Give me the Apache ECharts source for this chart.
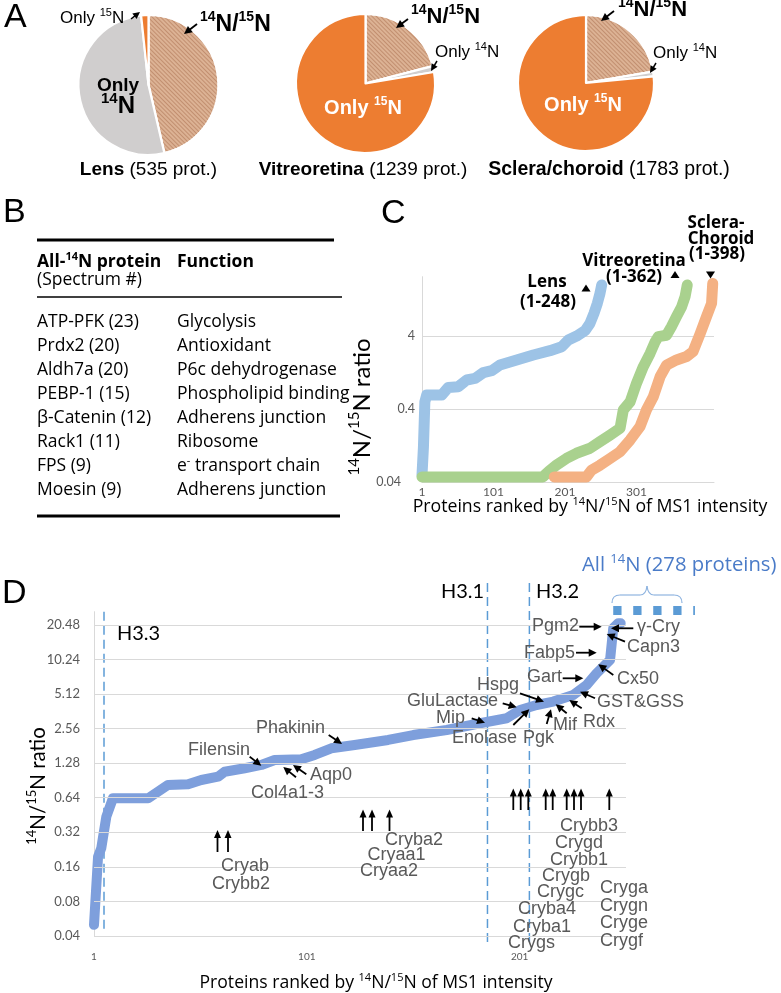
<!DOCTYPE html>
<html><head><meta charset="utf-8">
<script src="https://cdn.jsdelivr.net/npm/echarts@6/dist/echarts.min.js"></script>
<style>html,body{margin:0;padding:0;background:#fff}#c{width:781px;height:993px}</style>
</head><body><div id="c"></div>
<script>
// ================= DATA =================
// Panel A: pie categories and protein counts
const pieCategories = ['14N/15N', 'Only 14N', 'Only 15N'];
const lensCounts = [248, 278, 9];
const vitreoCounts = [260, 17, 962];
const scleraCounts = [398, 20, 1365];

// Panel B: table
const tableProteins = ['ATP-PFK (23)', 'Prdx2 (20)', 'Aldh7a (20)', 'PEBP-1 (15)', 'β-Catenin (12)', 'Rack1 (11)', 'FPS (9)', 'Moesin (9)'];
const tableFunctions = ['Glycolysis', 'Antioxidant', 'P6c dehydrogenase', 'Phospholipid binding', 'Adherens junction', 'Ribosome', 'e{s|-} transport chain', 'Adherens junction'];

// Panel C: rank vs 14N/15N ratio
const cLensRank  = [1, 3, 5, 7.5, 28.5, 37.8, 51.8, 63.5, 75.1, 86.8, 98.5, 110, 133.4, 156.7, 180, 196.4, 205.6, 217.3, 229, 236, 241.6, 246.2, 250, 252.3];
const cLensRatio = [0.05, 0.12, 0.5, 0.62, 0.62, 0.79, 0.81, 1.0, 1.05, 1.26, 1.34, 1.6, 1.88, 2.2, 2.52, 2.85, 3.53, 4.0, 4.73, 5.97, 8.2, 11.2, 15.4, 20];
const cVitreoRank  = [1, 170, 180, 189, 203, 217, 236, 250, 264, 278, 282.6, 292, 301, 310.5, 320, 327, 331.5, 343, 350, 357, 364, 369, 372];
const cVitreoRatio = [0.047, 0.047, 0.058, 0.068, 0.084, 0.099, 0.116, 0.143, 0.176, 0.218, 0.39, 0.50, 0.90, 1.52, 2.31, 3.33, 3.92, 4.1, 5.4, 7.4, 10, 13.9, 20];
const cScleraRank  = [186, 231, 238, 250, 264, 278, 292, 306, 315, 324.5, 334, 343, 357, 371, 380, 390, 399, 406, 407.6];
const cScleraRatio = [0.047, 0.047, 0.058, 0.068, 0.084, 0.104, 0.15, 0.23, 0.39, 0.59, 1.11, 1.6, 1.88, 2.1, 2.44, 4.3, 7.4, 11.2, 21];
const cXTicks = [1, 101, 201, 301];
const cYTicks = [0.04, 0.4, 4];

// Panel D: lens rank vs ratio
const dRank  = [1, 2.9, 4.4, 6.8, 9.9, 26.4, 31.1, 35.8, 45.2, 51.4, 59.3, 62.4, 71.8, 79.6, 85.9, 98.4, 104.7, 112.5, 123.5, 139.2, 151, 166.7, 182.4, 194.9, 201.2, 209, 216.8, 226.2, 232.5, 237.2, 240.3, 243.5, 244.3, 245, 247.4, 248.5];
const dRatio = [0.05, 0.196, 0.232, 0.438, 0.633, 0.633, 0.723, 0.827, 0.838, 0.914, 0.976, 1.079, 1.156, 1.235, 1.365, 1.384, 1.509, 1.726, 1.844, 2.04, 2.25, 2.49, 2.85, 3.15, 3.72, 4.11, 4.40, 5.03, 6.14, 7.77, 8.86, 10.14, 14.2, 19.2, 21.2, 21.2];
const dAll14NRank = [245, 283.4];
const dAll14NRatio = [27.4, 27.4];
const dHistoneNames = ['H3.3', 'H3.1', 'H3.2'];
const dHistoneRank = [5.7, 185.9, 205.6];
const dHistoneTop = [26.7, 47.5, 47.5];
const dHistoneBottom = [0.0425, 0.0323, 0.0323];
const dXTicks = [1, 101, 201];
const dYTicks = [0.04, 0.08, 0.16, 0.32, 0.64, 1.28, 2.56, 5.12, 10.24, 20.48];
const dGridRankRange = [1, 251];

// ================= STYLE / LAYOUT =================
const ARIAL = 'Liberation Sans, Arial, sans-serif';
const CAL = 'Lato, Carlito, sans-serif';
const OPEN = 'Open Sans, Noto Sans, sans-serif';
const pieColors = ['#dcb294', '#d0cece', '#ed7d31'];
const hatchDecal = { symbol: 'rect', symbolSize: 1, color: 'rgba(168,108,76,0.5)', dashArrayX: [1, 0], dashArrayY: [1, 2], rotation: Math.PI / 4 };
const zip = (a, b) => a.map((v, i) => [v, b[i]]);

function richSet(size, weight, family, color) {
  const lh = Math.round(size * 1.25);
  const ss = Math.round(size * 0.62);
  return {
    b: { fontSize: size, fontWeight: 'bold', fontFamily: family, fill: color, lineHeight: lh },
    r: { fontSize: size, fontWeight: 'normal', fontFamily: family, fill: color, lineHeight: lh },
    s: { fontSize: ss, fontWeight: weight, fontFamily: family, fill: color, lineHeight: Math.round(ss * 1.2), verticalAlign: 'top' }
  };
}
function txt(x, y, text, size, o) {
  o = o || {};
  const family = o.family || ARIAL, weight = o.weight || 'normal', color = o.color || '#000';
  const align = o.align || 'left';
  return {
    type: 'text', x: x, y: y, z: 100, silent: true,
    rotation: o.rotation || 0,
    style: {
      text: text, fontSize: size, fontFamily: family, fontWeight: weight, fill: color,
      lineHeight: Math.round(size * 1.25),
      align: align, textAlign: align, verticalAlign: 'middle', textVerticalAlign: 'middle',
      rich: richSet(size, weight, family, color)
    }
  };
}
function arrow(x1, y1, x2, y2, hl, hw, lw) {
  const dx = x2 - x1, dy = y2 - y1, L = Math.hypot(dx, dy), ux = dx / L, uy = dy / L;
  const bx = x2 - ux * hl, by = y2 - uy * hl, px = -uy * hw / 2, py = ux * hw / 2;
  return [
    { type: 'line', z: 100, silent: true, shape: { x1: x1, y1: y1, x2: bx + ux, y2: by + uy }, style: { stroke: '#000', lineWidth: lw } },
    { type: 'polygon', z: 100, silent: true, shape: { points: [[x2, y2], [bx + px, by + py], [bx - px, by - py]] }, style: { fill: '#000' } }
  ];
}
function hline(x1, x2, y, lw) {
  return { type: 'line', z: 100, silent: true, shape: { x1: x1, y1: y, x2: x2, y2: y }, style: { stroke: '#000', lineWidth: lw } };
}
function tri(cx, cy, up) {
  const s = 4.5;
  const pts = up ? [[cx - s, cy + s * 0.8], [cx + s, cy + s * 0.8], [cx, cy - s * 0.8]] : [[cx - s, cy - s * 0.8], [cx + s, cy - s * 0.8], [cx, cy + s * 0.8]];
  return { type: 'polygon', z: 100, silent: true, shape: { points: pts }, style: { fill: '#000' } };
}
function qcurve(x1, y1, cx, cy, x2, y2, color) {
  return { type: 'bezierCurve', z: 100, silent: true, shape: { x1: x1, y1: y1, cpx1: cx, cpy1: cy, x2: x2, y2: y2 }, style: { stroke: color, lineWidth: 1.2, fill: null } };
}

const G = [];
// panel letters
G.push(txt(4, 18, 'A', 34));
G.push(txt(3, 213, 'B', 34));
G.push(txt(381, 214, 'C', 34));
G.push(txt(2, 594, 'D', 34));

// ---- Panel A annotations ----
G.push(txt(60, 18, 'Only {s|15}N', 17));
G.push(...arrow(131, 19, 140, 12, 7, 7, 1.5));
G.push(txt(200, 25, '{s|14}N/{s|15}N', 23, { weight: 'bold' }));
G.push(...arrow(197, 24, 184, 34, 8, 8, 1.8));
G.push(txt(118, 86, 'Only', 19, { weight: 'bold', align: 'center' }));
G.push(txt(118, 106, '{s|14}N', 24, { weight: 'bold', align: 'center' }));
G.push(txt(148.5, 170, '{b|Lens} (535 prot.)', 19, { align: 'center' }));

G.push(txt(411, 17, '{s|14}N/{s|15}N', 22, { weight: 'bold' }));
G.push(...arrow(408, 19, 396, 28, 8, 8, 1.8));
G.push(txt(435, 52, 'Only {s|14}N', 17));
G.push(...arrow(437, 61, 431, 71, 7, 7, 1.5));
G.push(txt(363, 108, 'Only {s|15}N', 20, { weight: 'bold', color: '#fff', align: 'center' }));
G.push(txt(363, 170, '{b|Vitreoretina} (1239 prot.)', 19, { align: 'center' }));

G.push(txt(618, 10, '{s|14}N/{s|15}N', 22, { weight: 'bold' }));
G.push(...arrow(614, 11, 601, 21, 8, 8, 1.8));
G.push(txt(653, 53, 'Only {s|14}N', 17));
G.push(...arrow(656, 63, 650, 73, 7, 7, 1.5));
G.push(txt(583, 105, 'Only {s|15}N', 20, { weight: 'bold', color: '#fff', align: 'center' }));
G.push(txt(609, 170, '{b|Sclera/choroid} (1783 prot.)', 19.5, { align: 'center' }));

// ---- Panel B table ----
const TB = 17.5;
G.push(hline(37, 334, 240, 3));
G.push(txt(37, 262, 'All-{s|14}N protein', TB, { family: OPEN, weight: 'bold' }));
G.push(txt(177, 262, 'Function', TB, { family: OPEN, weight: 'bold' }));
G.push(txt(37, 280, '(Spectrum #)', TB, { family: OPEN }));
G.push(hline(37, 342, 297, 1.5));
tableProteins.forEach((p, i) => {
  const y = 321.7 + i * 24.07;
  G.push(txt(37, y, p, TB, { family: OPEN }));
  G.push(txt(177, y, tableFunctions[i], TB, { family: OPEN }));
});
G.push(hline(37, 340, 516, 3));

// ---- Panel C annotations ----
const CA = 17;
G.push(txt(547, 282, 'Lens', CA, { family: OPEN, weight: 'bold', align: 'center' }));
G.push(txt(548, 302, '(1-248)', CA, { family: OPEN, weight: 'bold', align: 'center' }));
G.push(tri(586, 288, true));
G.push(txt(634, 261, 'Vitreoretina', CA, { family: OPEN, weight: 'bold', align: 'center' }));
G.push(txt(634, 277, '(1-362)', CA, { family: OPEN, weight: 'bold', align: 'center' }));
G.push(tri(675, 274.5, true));
G.push(txt(716, 223, 'Sclera-', CA, { family: OPEN, weight: 'bold', align: 'center' }));
G.push(txt(721, 239, 'Choroid', CA, { family: OPEN, weight: 'bold', align: 'center' }));
G.push(txt(717, 254, '(1-398)', CA, { family: OPEN, weight: 'bold', align: 'center' }));
G.push(tri(710.5, 275, false));
G.push(txt(362, 407, '{s|14}N/{s|15}N ratio', 24, { family: CAL, align: 'center', rotation: Math.PI / 2 }));
G.push(txt(590, 507, 'Proteins ranked by {s|14}N/{s|15}N of MS1 intensity', 17.7, { family: OPEN, align: 'center' }));

// ---- Panel D annotations ----
G.push(txt(38, 786, '{s|14}N/{s|15}N ratio', 20.5, { family: CAL, align: 'center', rotation: Math.PI / 2 }));
G.push(txt(376, 983, 'Proteins ranked by {s|14}N/{s|15}N of MS1 intensity', 17.6, { family: OPEN, align: 'center' }));
G.push(txt(117, 634, 'H3.3', 20, { family: CAL }));
G.push(txt(441, 592, 'H3.1', 20, { family: CAL }));
G.push(txt(536, 592, 'H3.2', 20, { family: CAL }));
G.push(txt(582, 565, 'All {s|14}N (278 proteins)', 20.3, { family: OPEN, color: '#4a7bc8' }));
const BR = '#8fb4e0';
G.push(qcurve(612, 603, 612, 595, 620, 595, BR));
G.push({ type: 'line', z: 100, silent: true, shape: { x1: 620, y1: 595, x2: 640, y2: 595 }, style: { stroke: BR, lineWidth: 1.2 } });
G.push(qcurve(640, 595, 646, 595, 647, 586, BR));
G.push(qcurve(647, 586, 648, 595, 654, 595, BR));
G.push({ type: 'line', z: 100, silent: true, shape: { x1: 654, y1: 595, x2: 674, y2: 595 }, style: { stroke: BR, lineWidth: 1.2 } });
G.push(qcurve(674, 595, 682, 595, 682, 603, BR));

const GRAY = '#595959';
const dLabels = [
  ['Filensin', 188, 750], ['Phakinin', 256, 728], ['Aqp0', 310, 775], ['Col4a1-3', 251, 793],
  ['Cryab', 221, 866], ['Crybb2', 212, 884], ['Cryba2', 385, 840], ['Cryaa1', 367.5, 855], ['Cryaa2', 360, 871],
  ['Crybb3', 560, 826], ['Crygd', 555, 843], ['Crybb1', 550, 860], ['Crygb', 542, 876], ['Crygc', 537, 892],
  ['Cryba4', 518, 909], ['Cryba1', 513, 927], ['Crygs', 508, 943],
  ['Cryga', 600, 888], ['Crygn', 600, 906], ['Cryge', 600, 923], ['Crygf', 600, 941],
  ['Pgm2', 532, 626], ['γ-Cry', 637, 627], ['Capn3', 627, 647], ['Fabp5', 524, 653], ['Gart', 527, 677],
  ['Cx50', 617, 679], ['Hspg', 477, 685], ['GluLactase', 407, 701], ['GST&GSS', 597, 702], ['Mip', 436, 718],
  ['Rdx', 583, 722], ['Mif', 553, 725], ['Enolase', 452, 738], ['Pgk', 523, 738]
];
dLabels.forEach(l => G.push(txt(l[1], l[2], l[0], 18, { color: GRAY })));
const dArrows = [
  [249.7, 756.7, 261.3, 765.7], [328.7, 735, 342, 744], [306.3, 774.3, 293, 765], [296, 777.3, 283.3, 767],
  [579.3, 626.7, 601.7, 626.7], [633.3, 628.3, 611, 628.3], [625, 641.7, 606.7, 634], [576, 652.7, 596.7, 652.7],
  [562.7, 678.3, 583.3, 678.3], [613.3, 675, 598.3, 664.3], [520, 693.3, 544, 701.7], [502.7, 703.3, 516.7, 707.3],
  [595, 698.3, 580, 691.7], [471.7, 718.3, 485, 722.7], [581.7, 708.3, 569.3, 700], [566.7, 713.3, 555.7, 704.3],
  [546.7, 724, 551, 709.3], [513.3, 725, 529.3, 709.3]
];
dArrows.forEach(a => G.push(...arrow(a[0], a[1], a[2], a[3], 8, 8, 1.8)));
[[217.5, 852, 830], [228, 852, 830], [363, 831, 809.5], [372, 831, 809.5], [389.5, 831, 809.5],
 [513.3, 810, 788.5], [520.7, 810, 788.5], [528.3, 810, 788.5], [545.7, 810, 788.5], [552.7, 810, 788.5],
 [566.7, 810, 788.5], [574, 810, 788.5], [581, 810, 788.5], [609.3, 810, 788.5]]
 .forEach(a => G.push(...arrow(a[0], a[1], a[0], a[2], 8, 7, 1.8)));

// ================= CHART =================
const chart = echarts.init(document.getElementById('c'), null, { renderer: 'canvas' });
const pieSeries = (center, r, counts) => ({
  type: 'pie', center: center, radius: r, startAngle: 90, clockwise: true, silent: true,
  label: { show: false }, labelLine: { show: false },
  itemStyle: { borderColor: '#fff', borderWidth: 2.2 },
  data: counts.map((v, i) => {
    const st = { color: pieColors[i] };
    if (i === 0) st.decal = hatchDecal;
    return { name: pieCategories[i], value: v, itemStyle: st };
  })
});
const lineS = (xi, yi, data, color, width, extra) => Object.assign({
  type: 'line', xAxisIndex: xi, yAxisIndex: yi, data: data, showSymbol: false, symbol: 'none', silent: true,
  lineStyle: { color: color, width: width, cap: 'round', join: 'round' }
}, extra || {});

const axisGray = '#d9d9d9';
const fmt = v => String(+(+v).toPrecision(4));
// D panel: x axis extended so the "All 14N" marks fit; gridlines drawn over ranks 1-251
const dXMax = 283.4;
const dGridWidth = 532 * (dXMax - 1) / (dGridRankRange[1] - 1);
const option = {
  animation: false,
  grid: [
    { left: 422, top: 276.7, width: 292, height: 205.3, containLabel: false },
    { left: 94, top: 611.7, width: dGridWidth, height: 324.3, containLabel: false }
  ],
  xAxis: [
    { gridIndex: 0, type: 'value', min: 1, max: 409.4,
      axisLine: { show: true, onZero: false, lineStyle: { color: axisGray, width: 1 } },
      axisTick: { show: false, customValues: cXTicks },
      axisLabel: { customValues: cXTicks, fontSize: 12, fontFamily: CAL, color: GRAY, margin: 4, formatter: fmt },
      splitLine: { show: false } },
    { gridIndex: 1, type: 'value', min: 1, max: dXMax,
      axisLine: { show: false, onZero: false },
      axisTick: { show: false, customValues: dXTicks },
      axisLabel: { customValues: dXTicks, fontSize: 10, fontFamily: CAL, color: GRAY, margin: 16, formatter: fmt },
      splitLine: { show: false } }
  ],
  yAxis: [
    { gridIndex: 0, type: 'log', logBase: 10, min: 0.04, max: 26,
      axisLine: { show: true, lineStyle: { color: axisGray, width: 1 } },
      axisTick: { show: false, customValues: cYTicks },
      axisLabel: { customValues: cYTicks, fontSize: 12.5, fontFamily: CAL, color: GRAY, margin: 7,
        formatter: v => (Math.abs(v - 0.04) < 1e-6 ? '{w|0.04}' : fmt(v)),
        rich: { w: { fontSize: 12.5, fontFamily: CAL, color: GRAY, padding: [0, 14, 0, 0] } } },
      splitLine: { show: true, lineStyle: { color: axisGray, width: 1 } } },
    { gridIndex: 1, type: 'log', logBase: 2, min: 0.04, max: 26.7,
      axisLine: { show: true, lineStyle: { color: axisGray, width: 1 } },
      axisTick: { show: false, customValues: dYTicks },
      axisLabel: { customValues: dYTicks, fontSize: 13, fontFamily: CAL, color: GRAY, margin: 14, formatter: fmt },
      splitLine: { show: false } }
  ],
  series: [
    pieSeries([148.5, 85], 70, lensCounts),
    pieSeries([365.5, 83.5], 69.5, vitreoCounts),
    pieSeries([586, 83], 68, scleraCounts),
    lineS(0, 0, zip(cLensRank, cLensRatio), '#9dc3e6', 11),
    lineS(0, 0, zip(cVitreoRank, cVitreoRatio), '#a9d18e', 11),
    lineS(0, 0, zip(cScleraRank, cScleraRatio), '#f4b183', 11),
    // D gridlines (ranks 1-251)
    lineS(1, 1, [[dGridRankRange[0], dYTicks[0]]], 'rgba(0,0,0,0)', 0, {
      z: 1,
      markLine: { silent: true, symbol: ['none', 'none'], label: { show: false }, animation: false,
        lineStyle: { color: axisGray, width: 1, type: 'solid' }, emphasis: { disabled: true },
        data: dYTicks.map(v => [{ coord: [dGridRankRange[0], v] }, { coord: [dGridRankRange[1], v] }]) }
    }),
    ...dHistoneRank.map((r, i) => lineS(1, 1, [[r, dHistoneTop[i]], [r, dHistoneBottom[i]]], '#5b9bd5', 1.5,
      { name: dHistoneNames[i], clip: false, lineStyle: { color: '#5b9bd5', width: 1.5, type: [9, 5], cap: 'butt' } })),
    lineS(1, 1, zip(dRank, dRatio), '#7e9fdc', 10),
    lineS(1, 1, zip(dAll14NRank, dAll14NRatio), '#5b9bd5', 9,
      { clip: false, lineStyle: { color: '#5b9bd5', width: 9, type: [8.3, 11.7], cap: 'butt' } })
  ],
  graphic: { elements: G }
};
chart.setOption(option);
</script>
</body></html>
